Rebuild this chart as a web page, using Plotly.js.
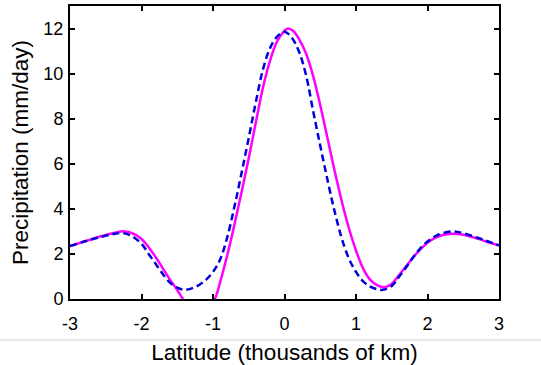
<!DOCTYPE html>
<html>
<head>
<meta charset="utf-8">
<script src="https://cdn.plot.ly/plotly-3.0.1.min.js"></script>
<style>html,body{margin:0;padding:0;background:#fff;}#chart{width:541px;height:365px;}</style>
</head>
<body>
<div id="chart"></div>
<script>
// Solid magenta curve
const solidX = [-3.0, -2.8, -2.6, -2.4, -2.23, -2.1, -2.0, -1.9, -1.8, -1.7, -1.6, -1.5, -1.42, -1.3, -1.2, -1.1, -0.975, -0.9, -0.8, -0.7, -0.6, -0.5, -0.4, -0.3, -0.2, -0.1, 0.0, 0.05, 0.12, 0.2, 0.3, 0.4, 0.5, 0.6, 0.7, 0.8, 0.9, 1.0, 1.1, 1.2, 1.3, 1.4, 1.5, 1.6, 1.7, 1.8, 1.9, 2.0, 2.1, 2.2, 2.34, 2.5, 2.7, 2.85, 3.0];
const solidY = [2.35, 2.55, 2.75, 2.92, 3.0, 2.88, 2.66, 2.3, 1.85, 1.35, 0.85, 0.4, 0.0, -0.5, -0.7, -0.55, 0.0, 0.75, 1.95, 3.3, 4.75, 6.25, 7.85, 9.4, 10.6, 11.45, 11.9, 12.0, 11.9, 11.55, 10.9, 9.9, 8.6, 7.15, 5.7, 4.35, 3.15, 2.15, 1.35, 0.85, 0.6, 0.52, 0.68, 1.05, 1.45, 1.85, 2.2, 2.5, 2.7, 2.83, 2.9, 2.85, 2.68, 2.52, 2.38];

// Dashed blue curve
const dashX = [-3.0, -2.8, -2.6, -2.4, -2.28, -2.15, -2.0, -1.9, -1.8, -1.7, -1.6, -1.5, -1.39, -1.25, -1.1, -1.0, -0.9, -0.8, -0.7, -0.6, -0.5, -0.4, -0.3, -0.2, -0.1, 0.0, 0.1, 0.2, 0.3, 0.4, 0.5, 0.6, 0.7, 0.8, 0.9, 1.0, 1.1, 1.2, 1.3, 1.38, 1.5, 1.6, 1.7, 1.8, 1.9, 2.0, 2.15, 2.36, 2.5, 2.7, 2.85, 3.0];
const dashY = [2.35, 2.55, 2.73, 2.88, 2.93, 2.82, 2.45, 2.0, 1.55, 1.1, 0.72, 0.5, 0.41, 0.53, 0.85, 1.2, 1.75, 2.75, 4.1, 5.6, 7.15, 8.75, 10.2, 11.15, 11.65, 11.86, 11.6, 11.0, 9.95, 8.35, 6.8, 5.3, 3.9, 2.7, 1.8, 1.2, 0.78, 0.55, 0.43, 0.41, 0.58, 0.98, 1.4, 1.85, 2.25, 2.55, 2.85, 3.0, 2.92, 2.72, 2.55, 2.38];

const xTicks = [-3, -2, -1, 0, 1, 2, 3];
const yTicks = [0, 2, 4, 6, 8, 10, 12];

const FONT = 'Liberation Sans, Arial, sans-serif';

const traces = [
  {x: solidX, y: solidY, type: 'scatter', mode: 'lines',
   line: {color: '#ff00ff', width: 2.5, shape: 'spline', smoothing: 1}, hoverinfo: 'skip'},
  {x: dashX, y: dashY, type: 'scatter', mode: 'lines',
   line: {color: '#0000dd', width: 2.5, dash: '7px,4px', shape: 'spline', smoothing: 1}, hoverinfo: 'skip'}
];

const axisCommon = {
  showline: true, linecolor: '#000', linewidth: 2, mirror: 'ticks',
  ticks: 'inside', ticklen: 5, tickwidth: 2, tickcolor: '#000',
  showgrid: false, zeroline: false,
  tickfont: {family: FONT, size: 18, color: '#000'}
};

const layout = {
  width: 541, height: 365,
  margin: {l: 70, r: 42, t: 6, b: 66},
  paper_bgcolor: '#fff', plot_bgcolor: '#fff',
  showlegend: false,
  xaxis: Object.assign({}, axisCommon, {
    range: [-3, 3], tickvals: xTicks, ticktext: xTicks.map(String),
    ticklabelstandoff: 7,
    title: {text: 'Latitude (thousands of km)', font: {family: FONT, size: 22.5, color: '#000'}, standoff: 12}
  }),
  yaxis: Object.assign({}, axisCommon, {
    range: [0, 13], tickvals: yTicks, ticktext: yTicks.map(String),
    ticklabelstandoff: 1,
    title: {text: 'Precipitation (mm/day)', font: {family: FONT, size: 22.5, color: '#000'}, standoff: 8}
  }),
  shapes: [{
    type: 'line', xref: 'paper', yref: 'paper',
    x0: -70/429, x1: 1 + 42/429, y0: -41/293, y1: -41/293,
    line: {color: '#cfcfcf', width: 1}
  }]
};

Plotly.newPlot('chart', traces, layout, {staticPlot: true, displayModeBar: false});
</script>
</body>
</html>
